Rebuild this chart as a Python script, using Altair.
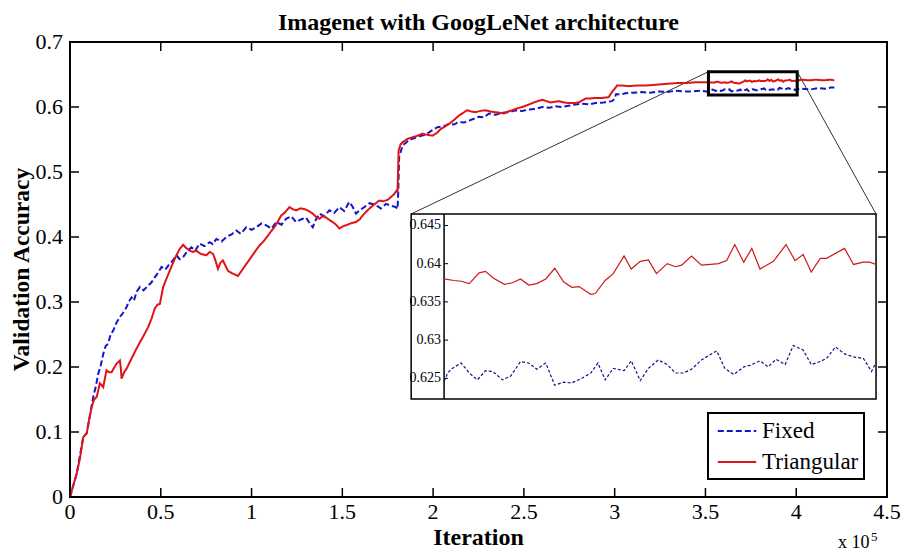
import altair as alt
import pandas as pd

# ---------------- data ----------------
SERIES = ["Fixed", "Triangular"]

fixed_x = [
    0.000, 0.037, 0.073, 0.092, 0.119, 0.128, 0.142, 0.156, 0.170, 0.183,
    0.196, 0.210, 0.224, 0.238, 0.256, 0.275, 0.292, 0.311, 0.325, 0.339,
    0.352, 0.367, 0.385, 0.405, 0.430, 0.448, 0.467, 0.485, 0.504, 0.525,
    0.549, 0.567, 0.586, 0.604, 0.623, 0.645, 0.669, 0.690, 0.714, 0.740,
    0.769, 0.786, 0.806, 0.835, 0.861, 0.890, 0.916, 0.940, 0.971, 1.000,
    1.026, 1.055, 1.081, 1.110, 1.136, 1.165, 1.190, 1.218, 1.245, 1.272,
    1.300, 1.320, 1.337, 1.355, 1.374, 1.400, 1.429, 1.455, 1.484, 1.510,
    1.538, 1.556, 1.575, 1.600, 1.621, 1.650, 1.685, 1.712, 1.740, 1.770,
    1.795, 1.804, 1.808, 1.813, 1.832, 1.850, 1.868, 1.895, 1.923, 1.950,
    1.978, 2.000, 2.024, 2.055, 2.088, 2.115, 2.143, 2.170, 2.198, 2.225,
    2.253, 2.280, 2.308, 2.345, 2.381, 2.420, 2.454, 2.490, 2.527, 2.565,
    2.601, 2.640, 2.674, 2.710, 2.747, 2.785, 2.821, 2.860, 2.894, 2.940,
    2.985, 2.998, 3.008, 3.030, 3.059, 3.100, 3.150, 3.195, 3.242, 3.290,
    3.334, 3.380, 3.425, 3.470, 3.505,
]
fixed_y = [
    0.000, 0.036, 0.092, 0.098, 0.140, 0.154, 0.170, 0.190, 0.203, 0.220,
    0.232, 0.236, 0.250, 0.256, 0.268, 0.277, 0.283, 0.292, 0.301, 0.307,
    0.302, 0.316, 0.323, 0.318, 0.325, 0.330, 0.338, 0.345, 0.354, 0.350,
    0.359, 0.364, 0.372, 0.366, 0.369, 0.378, 0.384, 0.379, 0.390, 0.386,
    0.392, 0.389, 0.397, 0.393, 0.400, 0.404, 0.410, 0.405, 0.415, 0.411,
    0.415, 0.421, 0.418, 0.413, 0.423, 0.419, 0.428, 0.432, 0.423, 0.427,
    0.430, 0.421, 0.415, 0.427, 0.436, 0.432, 0.441, 0.437, 0.446, 0.440,
    0.454, 0.447, 0.436, 0.442, 0.446, 0.452, 0.449, 0.444, 0.451, 0.448,
    0.446, 0.443, 0.470, 0.523, 0.541, 0.545, 0.550, 0.552, 0.555, 0.557,
    0.561, 0.565, 0.569, 0.570, 0.574, 0.573, 0.577, 0.576, 0.579, 0.582,
    0.585, 0.584, 0.590, 0.588, 0.591, 0.592, 0.595, 0.594, 0.596, 0.597,
    0.600, 0.599, 0.601, 0.600, 0.602, 0.604, 0.605, 0.604, 0.606, 0.607,
    0.609, 0.612, 0.620, 0.619, 0.621, 0.622, 0.623, 0.622, 0.624, 0.623,
    0.625, 0.624, 0.624, 0.625, 0.624,
]
fixed_tail_x = [4.030, 4.080, 4.120, 4.160, 4.190, 4.210]
fixed_tail_y = [0.628, 0.627, 0.629, 0.628, 0.630, 0.630]

tri_x = [
    0.000, 0.018, 0.037, 0.055, 0.073, 0.092, 0.105, 0.119, 0.133, 0.147,
    0.165, 0.183, 0.201, 0.215, 0.229, 0.245, 0.256, 0.275, 0.280, 0.284,
    0.298, 0.311, 0.330, 0.348, 0.366, 0.385, 0.405, 0.430, 0.450, 0.467,
    0.482, 0.495, 0.513, 0.530, 0.549, 0.567, 0.586, 0.605, 0.623, 0.640,
    0.659, 0.678, 0.696, 0.720, 0.751, 0.770, 0.788, 0.800, 0.815, 0.828,
    0.842, 0.856, 0.870, 0.895, 0.925, 0.940, 0.952, 0.975, 0.998, 1.020,
    1.044, 1.065, 1.090, 1.108, 1.126, 1.145, 1.163, 1.185, 1.209, 1.225,
    1.245, 1.270, 1.291, 1.315, 1.337, 1.355, 1.374, 1.392, 1.410, 1.430,
    1.447, 1.465, 1.484, 1.500, 1.520, 1.548, 1.575, 1.595, 1.612, 1.635,
    1.658, 1.680, 1.703, 1.725, 1.749, 1.770, 1.786, 1.800, 1.804, 1.810,
    1.820, 1.832, 1.859, 1.882, 1.905, 1.925, 1.941, 1.970, 1.996, 2.020,
    2.042, 2.065, 2.088, 2.115, 2.143, 2.165, 2.188, 2.210, 2.234, 2.260,
    2.289, 2.315, 2.344, 2.368, 2.390, 2.412, 2.436, 2.465, 2.491, 2.520,
    2.546, 2.575, 2.601, 2.625, 2.646, 2.670, 2.692, 2.720, 2.747, 2.775,
    2.802, 2.820, 2.839, 2.865, 2.894, 2.930, 2.967, 2.985, 3.000, 3.013,
    3.045, 3.077, 3.120, 3.169, 3.215, 3.260, 3.305, 3.352, 3.400, 3.443,
    3.480, 3.505,
]
tri_y = [
    0.000, 0.018, 0.036, 0.060, 0.092, 0.098, 0.118, 0.138, 0.150, 0.154,
    0.175, 0.169, 0.195, 0.192, 0.192, 0.200, 0.205, 0.210, 0.198, 0.182,
    0.192, 0.197, 0.208, 0.218, 0.228, 0.238, 0.248, 0.261, 0.275, 0.290,
    0.296, 0.297, 0.323, 0.335, 0.348, 0.360, 0.372, 0.382, 0.388, 0.383,
    0.379, 0.377, 0.379, 0.374, 0.372, 0.377, 0.374, 0.365, 0.351, 0.360,
    0.364, 0.356, 0.348, 0.344, 0.340, 0.346, 0.351, 0.360, 0.369, 0.378,
    0.387, 0.393, 0.402, 0.409, 0.415, 0.424, 0.433, 0.438, 0.446, 0.443,
    0.441, 0.444, 0.443, 0.440, 0.436, 0.431, 0.428, 0.432, 0.430, 0.426,
    0.423, 0.419, 0.413, 0.416, 0.418, 0.421, 0.423, 0.427, 0.433, 0.440,
    0.446, 0.451, 0.456, 0.455, 0.457, 0.462, 0.466, 0.472, 0.469, 0.533,
    0.542, 0.546, 0.551, 0.553, 0.555, 0.557, 0.559, 0.557, 0.556, 0.560,
    0.566, 0.570, 0.574, 0.580, 0.587, 0.591, 0.595, 0.593, 0.592, 0.594,
    0.595, 0.593, 0.592, 0.591, 0.590, 0.593, 0.595, 0.598, 0.600, 0.603,
    0.606, 0.609, 0.611, 0.609, 0.607, 0.608, 0.609, 0.607, 0.606, 0.606,
    0.607, 0.610, 0.613, 0.613, 0.614, 0.614, 0.615, 0.623, 0.628, 0.633,
    0.633, 0.632, 0.633, 0.633, 0.634, 0.635, 0.636, 0.637, 0.637, 0.638,
    0.638, 0.638,
]
tri_tail_x = [4.030, 4.070, 4.110, 4.150, 4.190, 4.210]
tri_tail_y = [0.642, 0.641, 0.642, 0.641, 0.642, 0.641]

# zoomed window (inset) values, x in units of 1e5 iterations
inset_tri_x = [
    3.520, 3.531, 3.539, 3.548, 3.559, 3.566, 3.575, 3.587, 3.596, 3.605,
    3.614, 3.623, 3.633, 3.643, 3.653, 3.662, 3.670, 3.683, 3.688, 3.699,
    3.708, 3.720, 3.728, 3.738, 3.747, 3.756, 3.768, 3.777, 3.784, 3.795,
    3.806, 3.816, 3.825, 3.834, 3.843, 3.853, 3.862, 3.871, 3.886, 3.900,
    3.910, 3.919, 3.928, 3.938, 3.945, 3.965, 3.975, 3.986, 3.993, 4.000,
]
inset_tri_y = [
    0.6380, 0.6378, 0.6377, 0.6374, 0.6388, 0.6390, 0.6381, 0.6373, 0.6375, 0.6380,
    0.6372, 0.6374, 0.6380, 0.6394, 0.6376, 0.6369, 0.6370, 0.6360, 0.6361, 0.6378,
    0.6387, 0.6410, 0.6393, 0.6403, 0.6405, 0.6387, 0.6400, 0.6396, 0.6398, 0.6410,
    0.6398, 0.6399, 0.6400, 0.6404, 0.6425, 0.6402, 0.6420, 0.6393, 0.6403, 0.6425,
    0.6404, 0.6412, 0.6389, 0.6407, 0.6407, 0.6420, 0.6399, 0.6402, 0.6402, 0.6399,
]
inset_fixed_x = [
    3.520, 3.524, 3.529, 3.539, 3.548, 3.557, 3.566, 3.574, 3.585, 3.594,
    3.605, 3.614, 3.623, 3.633, 3.643, 3.653, 3.662, 3.673, 3.683, 3.691,
    3.699, 3.708, 3.720, 3.728, 3.738, 3.747, 3.758, 3.768, 3.777, 3.786,
    3.795, 3.806, 3.823, 3.832, 3.842, 3.853, 3.860, 3.871, 3.880, 3.889,
    3.899, 3.908, 3.919, 3.928, 3.938, 3.945, 3.955, 3.965, 3.975, 3.986,
    3.995, 4.000,
]
inset_fixed_y = [
    0.6246, 0.6257, 0.6263, 0.6270, 0.6257, 0.6248, 0.6260, 0.6259, 0.6248, 0.6253,
    0.6272, 0.6270, 0.6262, 0.6270, 0.6241, 0.6245, 0.6244, 0.6250, 0.6257, 0.6270,
    0.6248, 0.6263, 0.6260, 0.6273, 0.6247, 0.6263, 0.6274, 0.6268, 0.6257, 0.6257,
    0.6262, 0.6274, 0.6286, 0.6263, 0.6255, 0.6265, 0.6267, 0.6273, 0.6265, 0.6275,
    0.6268, 0.6293, 0.6287, 0.6268, 0.6272, 0.6276, 0.6291, 0.6282, 0.6278, 0.6276,
    0.6259, 0.6271,
]

x_ticks = [0, 0.5, 1, 1.5, 2, 2.5, 3, 3.5, 4, 4.5]
y_ticks = [0, 0.1, 0.2, 0.3, 0.4, 0.5, 0.6, 0.7]
inset_y_ticks = [0.625, 0.63, 0.635, 0.64, 0.645]

TITLE = "Imagenet with GoogLeNet architecture"
X_TITLE = "Iteration"
Y_TITLE = "Validation Accuracy"

# ---------------- layout / style constants ----------------
W, H = 817, 455
FONT = "Liberation Serif"
BLUE, RED = "#1414c8", "#e01414"
INSET_BLUE, INSET_RED = "#14148c", "#cc1a1a"
TICK = 9
ZOOM_WIN = {"x": 3.5165, "x2": 4.0055, "y": 0.6185, "y2": 0.6543}
INSET_BOX = {"x": 1.8791, "x2": 4.4396, "y": 0.1508, "y2": 0.4354}
INSET_AREA = {"x": 2.0604, "x2": 4.4396, "y": 0.1508, "y2": 0.4354}
INSET_X_DOMAIN = [3.52, 4.0]
INSET_Y_DOMAIN = [0.6223, 0.6465]
INSET_TICK = 4.5 * 4 / W

SX = (INSET_AREA["x2"] - INSET_AREA["x"]) / (INSET_X_DOMAIN[1] - INSET_X_DOMAIN[0])
SY = (INSET_AREA["y2"] - INSET_AREA["y"]) / (INSET_Y_DOMAIN[1] - INSET_Y_DOMAIN[0])
MAP_X = f"{INSET_AREA['x']} + (datum.x - {INSET_X_DOMAIN[0]}) * {SX}"
MAP_Y = f"{INSET_AREA['y']} + (datum.y - {INSET_Y_DOMAIN[0]}) * {SY}"

# ---------------- tables ----------------
fx = fixed_x + inset_fixed_x + fixed_tail_x
fy = fixed_y + inset_fixed_y + fixed_tail_y
tx = tri_x + inset_tri_x + tri_tail_x
ty = tri_y + inset_tri_y + tri_tail_y
main_df = pd.DataFrame({
    "x": fx + tx,
    "y": fy + ty,
    "series": [SERIES[0]] * len(fx) + [SERIES[1]] * len(tx),
})
inset_fixed_df = pd.DataFrame({"x": inset_fixed_x, "y": inset_fixed_y})
inset_tri_df = pd.DataFrame({"x": inset_tri_x, "y": inset_tri_y})
inset_tick_df = pd.DataFrame({"y": inset_y_ticks})

xs = alt.Scale(domain=[0, 4.5], nice=False, zero=False)
ys = alt.Scale(domain=[0, 0.7], nice=False, zero=False)


def X(field="x"):
    return alt.X(f"{field}:Q", scale=xs, axis=None)


def Y(field="y"):
    return alt.Y(f"{field}:Q", scale=ys, axis=None)


LEG = dict(title=None, symbolType="M-1.6,0H1.6")

lines = alt.Chart(main_df).mark_line(strokeWidth=2).encode(
    x=X(), y=Y(),
    color=alt.Color("series:N", scale=alt.Scale(domain=SERIES, range=[BLUE, RED]),
                    legend=alt.Legend(**LEG)),
    strokeDash=alt.StrokeDash("series:N", scale=alt.Scale(domain=SERIES, range=[[6, 3], [1, 0]]),
                              legend=alt.Legend(**LEG)),
)

# ---- box ticks (MATLAB style, pointing inwards) and tick labels ----
xt_df = pd.DataFrame({"v": x_ticks})
yt_df = pd.DataFrame({"v": y_ticks})
tick_rule = dict(color="black", strokeWidth=1.5)
bottom_ticks = alt.Chart(xt_df).mark_rule(**tick_rule).encode(
    x=X("v"), y=alt.value(H), y2=alt.value(H - TICK))
top_ticks = alt.Chart(xt_df).mark_rule(**tick_rule).encode(
    x=X("v"), y=alt.value(0), y2=alt.value(TICK))
left_ticks = alt.Chart(yt_df).mark_rule(**tick_rule).encode(
    y=Y("v"), x=alt.value(0), x2=alt.value(TICK))
right_ticks = alt.Chart(yt_df).mark_rule(**tick_rule).encode(
    y=Y("v"), x=alt.value(W), x2=alt.value(W - TICK))

lab = dict(font=FONT, fontSize=22, color="black")
x_labels = alt.Chart(xt_df).mark_text(align="center", baseline="alphabetic", **lab).encode(
    x=X("v"), y=alt.value(H + 22), text=alt.Text("v:Q", format="~g"))
y_labels = alt.Chart(yt_df).mark_text(align="right", baseline="middle", **lab).encode(
    y=Y("v"), x=alt.value(-7), text=alt.Text("v:Q", format="~g"))

ttl = dict(font=FONT, fontWeight="bold", color="black", baseline="alphabetic", align="center")
chart_title = alt.Chart(pd.DataFrame({"t": [TITLE]})).mark_text(fontSize=24, **ttl).encode(
    text="t:N", x=alt.value(W / 2), y=alt.value(-12.5))
x_title = alt.Chart(pd.DataFrame({"t": [X_TITLE]})).mark_text(fontSize=24, **ttl).encode(
    text="t:N", x=alt.value(W / 2), y=alt.value(503))
y_title = alt.Chart(pd.DataFrame({"t": [Y_TITLE]})).mark_text(fontSize=23.5, angle=270, **ttl).encode(
    text="t:N", x=alt.value(-41), y=alt.value(H / 2))

# ---- zoom window, connectors and inset ----
zoom_df = pd.DataFrame([ZOOM_WIN])
box_df = pd.DataFrame([INSET_BOX])
area_df = pd.DataFrame([INSET_AREA])
conn_df = pd.DataFrame({
    "x": [ZOOM_WIN["x"], ZOOM_WIN["x2"]],
    "y": [ZOOM_WIN["y2"], ZOOM_WIN["y2"]],
    "x2": [INSET_BOX["x"], INSET_BOX["x2"]],
    "y2": [INSET_BOX["y2"], INSET_BOX["y2"]],
})

zoom_rect = alt.Chart(zoom_df).mark_rect(fillOpacity=0, stroke="black", strokeWidth=3).encode(
    x=X(), x2="x2:Q", y=Y(), y2="y2:Q")
connectors = alt.Chart(conn_df).mark_rule(color="#333333", strokeWidth=1).encode(
    x=X(), x2="x2:Q", y=Y(), y2="y2:Q")
inset_bg = alt.Chart(box_df).mark_rect(fill="white", stroke="black", strokeWidth=1.5).encode(
    x=X(), x2="x2:Q", y=Y(), y2="y2:Q")

inset_axis = alt.Chart(area_df).mark_rule(color="black", strokeWidth=1.5).encode(
    x=X(), y=Y(), y2="y2:Q")
inset_ticks = alt.Chart(inset_tick_df).transform_calculate(
    Y=MAP_Y, X=f"{INSET_AREA['x']}", X2=f"{INSET_AREA['x']} + {INSET_TICK}"
).mark_rule(color="black", strokeWidth=1).encode(x=X("X"), x2="X2:Q", y=Y("Y"))
inset_labels = alt.Chart(inset_tick_df).transform_calculate(
    Y=MAP_Y, X=f"{INSET_AREA['x']}"
).mark_text(align="right", baseline="middle", dx=-3, font=FONT, fontSize=14,
            color="black").encode(
    x=X("X"), y=Y("Y"), text=alt.Text("y:Q", format="~g"))
inset_fixed = alt.Chart(inset_fixed_df).transform_calculate(
    X=MAP_X, Y=MAP_Y
).mark_line(color=INSET_BLUE, strokeWidth=1.2, strokeDash=[3, 2]).encode(
    x=X("X"), y=Y("Y"))
inset_tri = alt.Chart(inset_tri_df).transform_calculate(
    X=MAP_X, Y=MAP_Y
).mark_line(color=INSET_RED, strokeWidth=1.2).encode(x=X("X"), y=Y("Y"))

sci_txt = alt.Chart(pd.DataFrame({"t": ["x 10"]})).mark_text(
    align="left", baseline="alphabetic", font=FONT, fontSize=18, color="black").encode(
    text="t:N", x=alt.value(768), y=alt.value(506))
sci_exp = alt.Chart(pd.DataFrame({"t": ["5"]})).mark_text(
    align="left", baseline="alphabetic", font=FONT, fontSize=13, color="black").encode(
    text="t:N", x=alt.value(801), y=alt.value(499))

chart = alt.layer(
    connectors, inset_bg, lines, zoom_rect,
    bottom_ticks, top_ticks, left_ticks, right_ticks,
    x_labels, y_labels, chart_title, x_title, y_title,
    inset_axis, inset_ticks, inset_labels, inset_fixed, inset_tri,
    sci_txt, sci_exp,
).properties(
    width=W, height=H,
    autosize=alt.AutoSizeParams(type="none"),
    padding={"left": 62, "top": 34, "right": 14, "bottom": 58},
).configure_view(
    stroke="black", strokeWidth=2
).configure_legend(
    orient="none", legendX=638, legendY=371,
    strokeColor="black", strokeWidth=2, fillColor="white", padding=5, cornerRadius=0,
    labelFont=FONT, labelFontSize=23, labelColor="black", labelOffset=12,
    symbolSize=576, symbolOffset=11, symbolStrokeWidth=2, rowPadding=6,
)

chart.save("out.html", embed_options={"renderer": "svg", "actions": False})
